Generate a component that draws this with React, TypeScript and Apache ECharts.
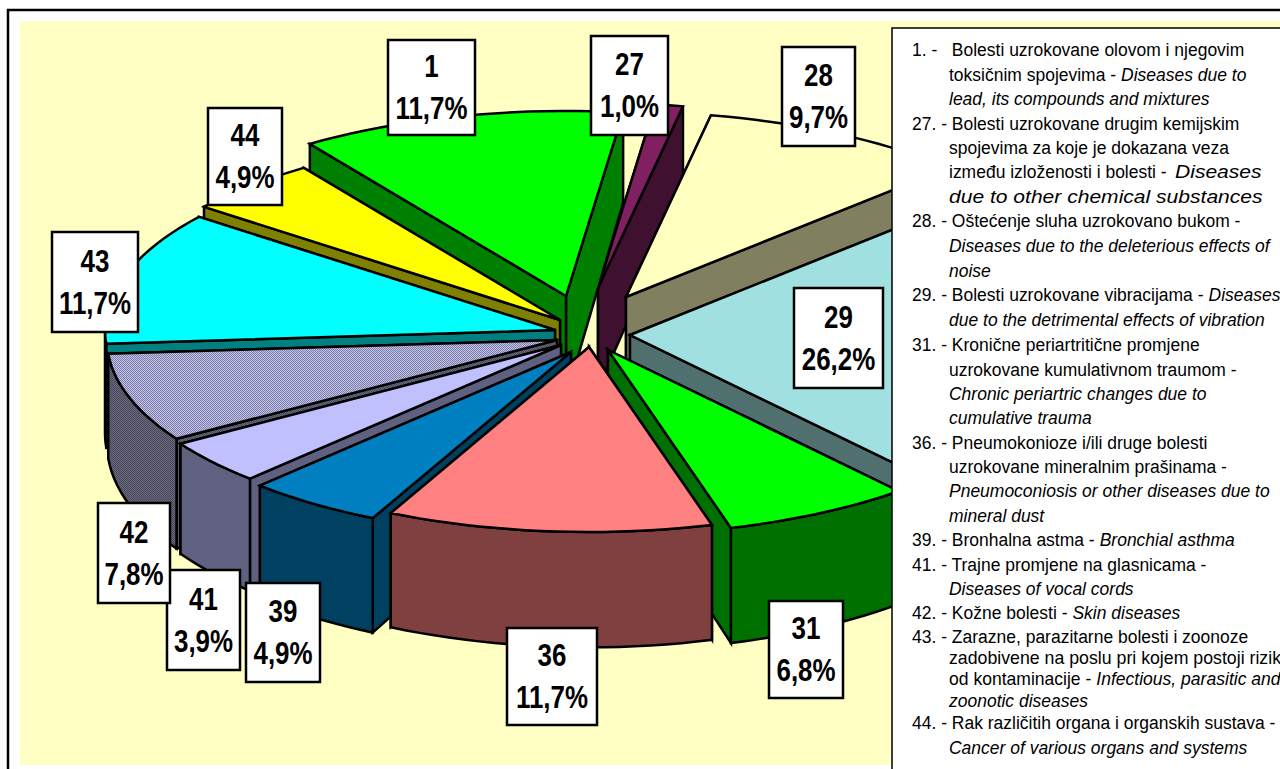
import React, { useEffect, useRef } from "react";
import * as echarts from "echarts";

const categories = ["1", "27", "28", "29", "31", "36", "39", "41", "42", "43", "44"];
const shares = [11.7, 1.0, 9.7, 26.2, 6.8, 11.7, 4.9, 3.9, 7.8, 11.7, 4.9];
const shareLabels = ["11,7%", "1,0%", "9,7%", "26,2%", "6,8%", "11,7%", "4,9%", "3,9%", "7,8%", "11,7%", "4,9%"];

const legendRegular = [
  "1. -\u00A0\u00A0\u00A0Bolesti uzrokovane olovom i njegovim",
  "toksičnim spojevima - ",
  "",
  "27. - Bolesti uzrokovane drugim kemijskim",
  "spojevima za koje je dokazana veza",
  "između izloženosti i bolesti - ",
  "",
  "28. - Oštećenje sluha uzrokovano bukom -",
  "",
  "",
  "29. - Bolesti uzrokovane vibracijama - ",
  "",
  "31. - Kronične periartritične promjene",
  "uzrokovane kumulativnom traumom -",
  "",
  "",
  "36. - Pneumokonioze i/ili druge bolesti",
  "uzrokovane mineralnim prašinama -",
  "",
  "",
  "39. - Bronhalna astma - ",
  "41. - Trajne promjene na glasnicama -",
  "",
  "42. - Kožne bolesti - ",
  "43. - Zarazne, parazitarne bolesti i zoonoze",
  "zadobivene na poslu pri kojem postoji rizik",
  "od kontaminacije - ",
  "",
  "44. - Rak različitih organa i organskih sustava -",
  "",
];
const legendItalic = [
  "",
  "Diseases due to",
  "lead, its compounds and mixtures",
  "",
  "",
  "Diseases",
  "due to other chemical substances",
  "",
  "Diseases due to the deleterious effects of",
  "noise",
  "Diseases",
  "due to the detrimental effects of vibration",
  "",
  "",
  "Chronic periartric changes due to",
  "cumulative trauma",
  "",
  "",
  "Pneumoconiosis or other diseases due to",
  "mineral dust",
  "Bronchial asthma",
  "",
  "Diseases of vocal cords",
  "Skin diseases",
  "",
  "",
  "Infectious, parasitic and",
  "zoonotic diseases",
  "",
  "Cancer of various organs and systems",
];

// ---- layout and styling, kept apart from the data ----
const legendRowY = [50, 75, 99, 124, 148, 172, 197, 221, 246, 271, 295, 320, 345, 370, 394, 418, 443, 467, 491, 516, 540, 565, 589, 613, 637, 658, 679, 701, 723, 748];
const legendScale: Record<number, number> = { 25: 0.985, 26: 0.975 };
const wideItalicX: Record<number, number> = { 5: 1175, 6: 949 };
const topColors = ["#00FF00", "#802060", "#FFFFC0", "#A0E0E0", "#00FF00", "#FF8080", "#0080C0", "#C0C0FF", "pattern", "#00FFFF", "#FFFF00"];
const wallColors = ["#008000", "#401030", "#808060", "#507070", "#007000", "#804040", "#004060", "#606080", "patternDark", "#008080", "#808000"];
const explodeOffsets = [[-22, -26], [10, -34], [38, -25], [42, 13], [20, 28], [1, 25], [-17, 30], [-27, 23], [-31, 18], [-33, 8], [-28, -2]];
const labelBoxes = [[388, 40, 87, 95], [591, 36, 77, 99], [782, 47, 73, 99], [794, 288, 89, 100], [769, 601, 74, 97], [507, 628, 90, 97], [246, 583, 74, 99], [167, 570, 73, 100], [98, 503, 72, 100], [52, 232, 86, 100], [208, 108, 74, 97]];
const PIE = { cx: 588, cy: 322, rx: 450, ry: 185, start: -34.7 };

function checker(a: string, b: string) {
  const c = document.createElement("canvas");
  c.width = 2;
  c.height = 2;
  const g = c.getContext("2d")!;
  g.fillStyle = a;
  g.fillRect(0, 0, 2, 2);
  g.fillStyle = b;
  g.fillRect(0, 0, 1, 1);
  g.fillRect(1, 1, 1, 1);
  return { image: c, repeat: "repeat" };
}

export default function App() {
  const ref = useRef<HTMLDivElement>(null);
  useEffect(() => {
    document.body.style.margin = "0";
    const chart = echarts.init(ref.current!, undefined, { renderer: "svg" });
    const total = shares.reduce((a, b) => a + b, 0);
    let acc = PIE.start;
    const spans = shares.map((v) => {
      const s = acc;
      acc += (v / total) * 360;
      return [s, acc];
    });
    const order = shares
      .map((_, i) => i)
      .sort((a, b) => {
        const m = (i: number) => (((spans[i][0] + spans[i][1]) / 2) * Math.PI) / 180;
        return Math.cos(m(b)) - Math.cos(m(a));
      });
    const pat = checker("#C4C4F0", "#7C7CA0");
    const patDark = checker("#68687E", "#484858");
    const fillOf = (c: string) => (c === "pattern" ? pat : c === "patternDark" ? patDark : c);
    const depth = (y: number) => 90 + (y - 110) * 0.06;

    const renderItem = (_p: any, api: any) => {
      const i = api.value(1);
      const [a0, a1] = spans[i];
      const tx = PIE.cx + explodeOffsets[i][0];
      const ty = PIE.cy + explodeOffsets[i][1];
      const arc = (from: number, to: number) => {
        const pts: number[][] = [];
        const n = Math.max(2, Math.ceil((to - from) / 2));
        for (let k = 0; k <= n; k++) {
          const t = ((from + ((to - from) * k) / n) * Math.PI) / 180;
          pts.push([tx + PIE.rx * Math.sin(t), ty - PIE.ry * Math.cos(t)]);
        }
        return pts;
      };
      const rim = arc(a0, a1);
      const drop = (p: number[]) => [p[0], p[1] + depth(p[1])];
      const tip = [tx, ty];
      const style = (fill: any) => ({ fill, stroke: "#000", lineWidth: 2.5, lineJoin: "miter" });
      const wall = fillOf(wallColors[i]);
      // the radial wall whose outer end lies further back is painted first
      const ends = [rim[0], rim[rim.length - 1]].sort((p, q) => p[1] - q[1]);
      const children: any[] = ends.map((e) => ({
        type: "polygon",
        shape: { points: [tip, e, drop(e), drop(tip)] },
        style: style(wall),
      }));
      const lo = Math.max(a0, 90);
      const hi = Math.min(a1, 270);
      if (lo < hi) {
        const front = arc(lo, hi);
        children.push({ type: "polygon", shape: { points: [...front, ...front.slice().reverse().map(drop)] }, style: style(wall) });
      }
      children.push({ type: "polygon", shape: { points: [tip, ...rim] }, style: style(fillOf(topColors[i])) });
      return { type: "group", children };
    };

    const rich = {
      r: { fontFamily: "Liberation Sans", fontSize: 18, fill: "#000" },
      i: { fontFamily: "Liberation Sans", fontSize: 18, fontStyle: "italic", fill: "#000" },
    };
    const legendText = (x: number, y: number, scaleX: number, text: string) => ({
      type: "text",
      z: 20,
      x,
      y,
      scaleX,
      silent: true,
      style: { text, rich, verticalAlign: "middle", align: "left" },
    });
    const legendEls = legendRegular.flatMap((reg, row) => {
      const it = legendItalic[row];
      const x = /^\d/.test(reg) ? 912 : 949;
      const y = legendRowY[row];
      const sx = legendScale[row] ?? 0.972;
      const wideX = wideItalicX[row];
      if (wideX !== undefined) {
        const els = [legendText(wideX, y, 1.17, `{i|${it}}`)];
        if (reg) els.push(legendText(x, y, sx, `{r|${reg}}`));
        return els;
      }
      const parts = [];
      if (reg) parts.push(`{r|${reg}}`);
      if (it) parts.push(`{i|${it}}`);
      return [legendText(x, y, sx, parts.join(""))];
    });
    const labelEls = categories.flatMap((c, i) => {
      const [x, y, w, h] = labelBoxes[i];
      return [
        { type: "rect", z: 15, silent: true, shape: { x, y, width: w, height: h }, style: { fill: "#fff", stroke: "#000", lineWidth: 2.5 } },
        {
          type: "text",
          z: 16,
          silent: true,
          x: x + w / 2,
          y: y + h / 2,
          scaleX: 0.81,
          style: {
            text: `${c}\n${shareLabels[i]}`,
            font: 'bold 32px "Liberation Sans"',
            lineHeight: 42,
            align: "center",
            verticalAlign: "middle",
            fill: "#000",
          },
        },
      ];
    });

    chart.setOption({
      animation: false,
      backgroundColor: "#fff",
      graphic: {
        elements: [
          { type: "rect", z: 0, silent: true, shape: { x: 8, y: 10, width: 1290, height: 780 }, style: { fill: "#fff", stroke: "#000", lineWidth: 2.5 } },
          { type: "rect", z: 0, silent: true, shape: { x: 20, y: 21, width: 1270, height: 744 }, style: { fill: "#FFFFC4" } },
          { type: "rect", z: 14, silent: true, shape: { x: 892, y: 28, width: 400, height: 760 }, style: { fill: "#fff", stroke: "#000", lineWidth: 1.5 } },
          ...labelEls,
          ...legendEls,
        ],
      },
      series: [
        {
          type: "custom",
          coordinateSystem: "none",
          z: 5,
          silent: true,
          clip: false,
          renderItem,
          data: order.map((i) => [shares[i], i]),
        },
      ],
    });
    return () => chart.dispose();
  }, []);
  return <div ref={ref} style={{ position: "fixed", left: 0, top: 0, width: 1280, height: 769 }} />;
}
